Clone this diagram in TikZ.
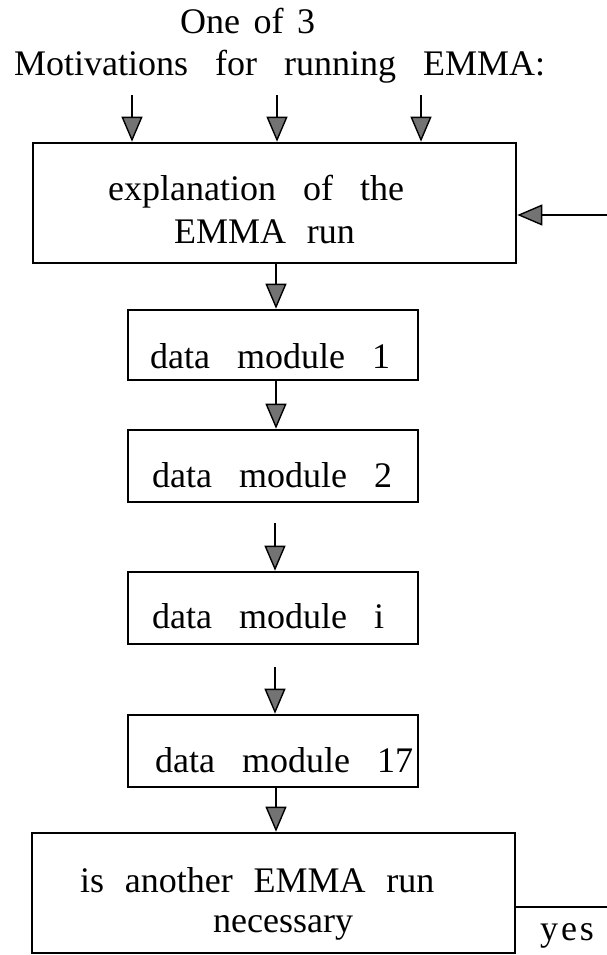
\documentclass[tikz,border=0pt]{standalone}
\usepackage{fontspec}
\setmainfont{Liberation Serif}[WordSpace=3]
\usetikzlibrary{arrows.meta}

\begin{document}
\begin{tikzpicture}[x=1pt,y=-1pt,
  box/.style={draw, line width=2.6pt, inner sep=0pt},
  lbl/.style={anchor=base west, inner sep=0pt, font=\fontsize{36}{40}\selectfont},
  flow/.style={line width=2pt, -{Triangle[width=21pt,length=25pt,fill=black!55,line width=1.4pt]}},
]
\useasboundingbox (0,0) rectangle (607,955);

% heading
\node[lbl] (head1) at (180,34) {\spaceskip=13.5pt One of 3};
\node[lbl] (head2) at (14,76) {Motivations for running EMMA:};

% boxes
\node[box, minimum width=483pt, minimum height=120pt] (expl) at (274.5,203) {};
\node[box, minimum width=290pt, minimum height=70pt]  (d1)   at (273,345) {};
\node[box, minimum width=290pt, minimum height=72pt]  (d2)   at (273,466) {};
\node[box, minimum width=290pt, minimum height=72pt]  (di)   at (273,608) {};
\node[box, minimum width=290pt, minimum height=72pt]  (d17)  at (273,751) {};
\node[box, minimum width=483pt, minimum height=120pt] (ask)  at (273.5,893) {};

% box texts
\node[lbl] (expl1) at (108,200) {explanation of the};
\node[lbl] (expl2) at (174,243) {\spaceskip=20.7pt EMMA run};
\node[lbl] (d1t)   at (150,368) {data module 1};
\node[lbl] (d2t)   at (152,487) {data module 2};
\node[lbl] (dit)   at (152,628) {data module i};
\node[lbl] (d17t)  at (155,772) {data module 17};
\node[lbl] (ask1)  at (80,892)  {\spaceskip=20.7pt is another EMMA run};
\node[lbl] (ask2)  at (213,932) {necessary};
\node[lbl] (yes)   at (540,940) {\addfontfeature{LetterSpace=8}yes};

% connector end points
\coordinate (m1) at (132,95);
\coordinate (m2) at (277,95);
\coordinate (m3) at (421,95);
\coordinate (back) at (607,215);
\coordinate (c) at (276,0);
\coordinate (g1) at (275,523);
\coordinate (g2) at (275,667);
\coordinate (yesend) at (607,907);

% connectors
\draw[flow] (m1) -- (m1 |- expl.north);
\draw[flow] (m2) -- (m2 |- expl.north);
\draw[flow] (m3) -- (m3 |- expl.north);
\draw[flow] (back) -- (back -| expl.east);
\draw[flow] (c |- expl.south) -- (c |- d1.north);
\draw[flow] (c |- d1.south) -- (c |- d2.north);
\draw[flow] (g1) -- (g1 |- di.north);
\draw[flow] (g2) -- (g2 |- d17.north);
\draw[flow] (c |- d17.south) -- (c |- ask.north);
\draw[line width=1.5pt] (ask.east |- yesend) -- (yesend);
\end{tikzpicture}
\end{document}
